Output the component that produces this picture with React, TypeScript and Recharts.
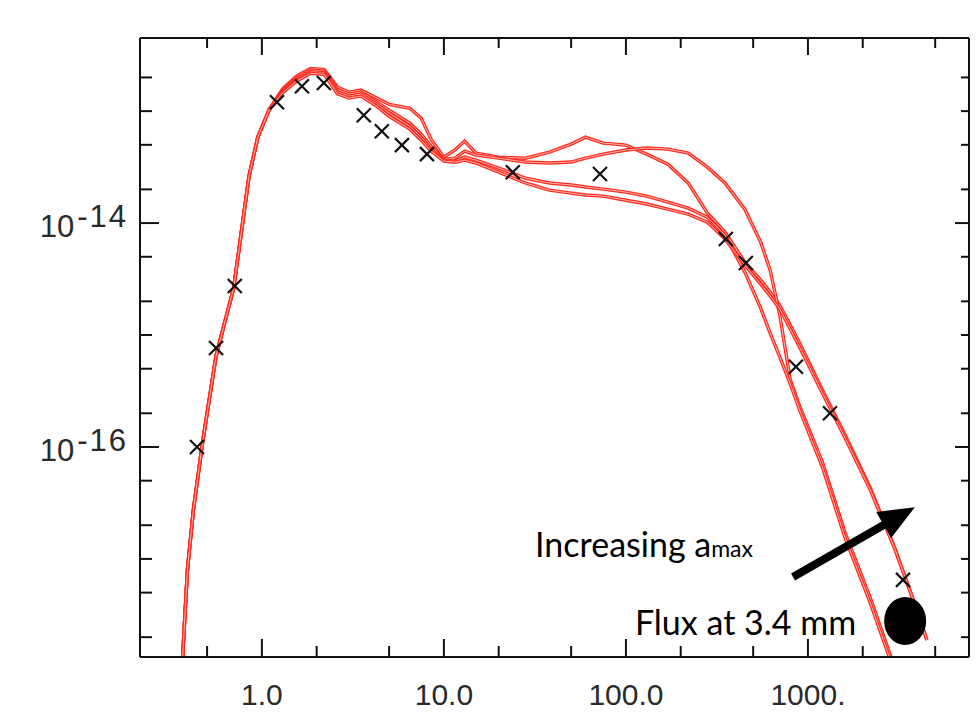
import React from "react"
import { ComposedChart, Line, Scatter, XAxis, YAxis, ReferenceLine } from "recharts"

// wavelength grid (micron) shared by the four model SEDs
const waves = [
  0.36, 0.37, 0.39, 0.42, 0.47, 0.56, 0.7, 0.85, 0.95, 1.1,
  1.3, 1.55, 1.85, 2.2, 2.6, 3.0, 3.5, 4.2, 5.0, 6.5,
  7.5, 8.5, 10, 11.5, 13, 15, 20, 28, 38, 50,
  60, 75, 100, 130, 170, 220, 280, 350, 450, 550,
  620, 700, 800, 900, 1200, 1600, 2200, 3000, 4000, 4500,
]

const modelA = [
  6.3e-19, 1.7e-18, 8.0e-18, 2.7e-17, 1.04e-16, 6.5e-16, 2.63e-15, 2.63e-14, 5.86e-14, 1.04e-13,
  1.58e-13, 2.05e-13, 2.4e-13, 2.35e-13, 1.64e-13, 1.48e-13, 1.54e-13, 1.33e-13, 1.15e-13, 1.06e-13,
  8.66e-14, 5.62e-14, 3.88e-14, 4.5e-14, 5.4e-14, 4.22e-14, 3.88e-14, 3.8e-14, 4.3e-14, 5.07e-14,
  5.86e-14, 5.18e-14, 4.97e-14, 4.13e-14, 3.36e-14, 2.28e-14, 1.23e-14, 8.3e-15, 4.49e-15, 3.1e-15,
  2.42e-15, 1.85e-15, 1.23e-15, 8.49e-16, 3.23e-16, 1.28e-16, 4.3e-17, 1.25e-17, 3.36e-18, 1.89e-18,
]

const modelB = [
  6.3e-19, 1.7e-18, 8.0e-18, 2.7e-17, 1.04e-16, 6.5e-16, 2.63e-15, 2.63e-14, 5.86e-14, 1.04e-13,
  1.54e-13, 1.97e-13, 2.32e-13, 2.28e-13, 1.56e-13, 1.42e-13, 1.48e-13, 1.23e-13, 1.02e-13, 7.8e-14,
  6.24e-14, 4.87e-14, 3.73e-14, 3.8e-14, 4.4e-14, 4.05e-14, 3.8e-14, 3.51e-14, 3.44e-14, 3.51e-14,
  3.8e-14, 4.13e-14, 4.49e-14, 4.68e-14, 4.58e-14, 4.22e-14, 3.16e-14, 2.28e-14, 1.33e-14, 6.76e-15,
  3.8e-15, 1.51e-15, 3.96e-16, 2.32e-16, 7.34e-17, 1.71e-17, 4.49e-18, 1.06e-18, 3.1e-19, 1.71e-19,
]

const modelC = [
  6.3e-19, 1.7e-18, 8.0e-18, 2.7e-17, 1.04e-16, 6.5e-16, 2.63e-15, 2.63e-14, 5.86e-14, 1.04e-13,
  1.5e-13, 1.9e-13, 2.25e-13, 2.2e-13, 1.49e-13, 1.36e-13, 1.42e-13, 1.18e-13, 9.6e-14, 7.3e-14,
  5.86e-14, 4.58e-14, 3.65e-14, 3.58e-14, 3.88e-14, 3.65e-14, 3.1e-14, 2.52e-14, 2.28e-14, 2.19e-14,
  2.1e-14, 2.01e-14, 1.89e-14, 1.74e-14, 1.54e-14, 1.36e-14, 1.13e-14, 7.8e-15, 3.65e-15, 1.74e-15,
  1.04e-15, 6.37e-16, 3.65e-16, 2.14e-16, 6.62e-17, 1.54e-17, 4.05e-18, 9.6e-19, 2.8e-19, 1.54e-19,
]

const modelD = [
  6.3e-19, 1.7e-18, 8.0e-18, 2.7e-17, 1.04e-16, 6.5e-16, 2.63e-15, 2.63e-14, 5.86e-14, 1.04e-13,
  1.46e-13, 1.85e-13, 2.18e-13, 2.13e-13, 1.43e-13, 1.31e-13, 1.36e-13, 1.13e-13, 9.0e-14, 6.9e-14,
  5.5e-14, 4.4e-14, 3.58e-14, 3.5e-14, 3.65e-14, 3.44e-14, 2.85e-14, 2.28e-14, 1.97e-14, 1.85e-14,
  1.78e-14, 1.74e-14, 1.6e-14, 1.48e-14, 1.33e-14, 1.2e-14, 1.02e-14, 7.2e-15, 4.22e-15, 2.85e-15,
  2.23e-15, 1.71e-15, 1.13e-15, 7.8e-16, 3.03e-16, 1.2e-16, 4.13e-17, 1.23e-17, 3.36e-18, 1.89e-18,
]

// observed photometry (crosses)
const obsWave = [0.44, 0.56, 0.71, 1.21, 1.66, 2.19, 3.63, 4.56, 5.88, 8.07, 23.9, 72, 354, 456, 859, 1321, 3327]
const obsFlux = [
  1.0e-16, 7.66e-16, 2.74e-15, 1.2e-13, 1.67e-13, 1.78e-13, 9.2e-14, 6.6e-14, 4.97e-14,
  4.13e-14, 2.85e-14, 2.74e-14, 7.2e-15, 4.4e-15, 5.2e-16, 2.0e-16, 6.5e-18,
]

// 3.4 mm flux point
const mmWave = [3420]
const mmFlux = [2.79e-18]

const xTicks = [0.5, 1, 2, 5, 10, 20, 50, 100, 200, 500, 1000, 2000, 5000]
const xLabelValues = [1, 10, 100, 1000]
const xLabelTexts = ["1.0", "10.0", "100.0", "1000."]
const yTicks = [
  2e-18, 5e-18, 1e-17, 2e-17, 5e-17, 1e-16, 2e-16, 5e-16,
  1e-15, 2e-15, 5e-15, 1e-14, 2e-14, 5e-14, 1e-13, 2e-13,
]
const yLabelExps = [-14, -16]

const arrowFrom = { x: 828, y: 6.9e-18 }
const arrowTo = { x: 3870, y: 2.9e-17 }

const xDomain = [0.214, 7670]
const yDomain = [1.33e-18, 4.5e-13]

const RED = "#ff2a1f"
const INK = "#111"
const TICK_FONT = "Liberation Sans, Arial, sans-serif"

const rows = waves.map((w, i) => ({ w, a: modelA[i], b: modelB[i], c: modelC[i], d: modelD[i] }))
const obsRows = obsWave.map((w, i) => ({ w, f: obsFlux[i] }))
const mmRows = mmWave.map((w, i) => ({ w, f: mmFlux[i] }))

const exp10 = (v: number) => Math.log10(v)
const isDecade = (v: number) => Math.abs(exp10(v) - Math.round(exp10(v))) < 1e-6

function BottomTick({ x, y, payload }: any) {
  const v = payload.value
  const len = isDecade(v) ? 18 : 11
  const idx = xLabelValues.findIndex((t) => Math.abs(t - v) / t < 1e-6)
  return (
    <g>
      <line x1={x} x2={x} y1={y} y2={y - len} stroke={INK} strokeWidth={2} />
      {idx >= 0 && (
        <text x={x} y={y + 48} textAnchor="middle" fontSize={30} fill="#2a2a2a" fontFamily={TICK_FONT}>
          {xLabelTexts[idx]}
        </text>
      )}
    </g>
  )
}

function TopTick({ x, y, payload }: any) {
  const len = isDecade(payload.value) ? 17 : 10
  return <line x1={x} x2={x} y1={y} y2={y + len} stroke={INK} strokeWidth={2} />
}

const yMajor = (v: number) => isDecade(v) && Math.round(exp10(v)) % 2 === 0

function LeftTick({ x, y, payload }: any) {
  const v = payload.value
  const len = yMajor(v) ? 19 : 12
  const e = Math.round(exp10(v))
  const labelled = isDecade(v) && yLabelExps.includes(e)
  return (
    <g>
      <line x1={x} x2={x + len} y1={y} y2={y} stroke={INK} strokeWidth={2} />
      {labelled && (
        <text x={x - 12} y={y + 14} textAnchor="end" fontSize={31} fill="#2a2a2a" fontFamily={TICK_FONT}>
          10<tspan dx={3} dy={-10} letterSpacing={2}>{String(e)}</tspan>
        </text>
      )}
    </g>
  )
}

function RightTick({ x, y, payload }: any) {
  const len = yMajor(payload.value) ? 14 : 8
  return <line x1={x} x2={x - len} y1={y} y2={y} stroke={INK} strokeWidth={2} />
}

function CrossMark({ cx, cy }: any) {
  const s = 7
  return (
    <g stroke={INK} strokeWidth={2.2}>
      <line x1={cx - s} y1={cy - s} x2={cx + s} y2={cy + s} />
      <line x1={cx - s} y1={cy + s} x2={cx + s} y2={cy - s} />
    </g>
  )
}

function MmDot({ cx, cy }: any) {
  return (
    <g>
      <ellipse cx={cx} cy={cy} rx={21} ry={24} fill="#000" />
      <text x={cx - 49} y={cy + 14} textAnchor="end" fontSize={34} fill="#000" fontFamily="Lato, sans-serif">
        Flux at 3.4 mm
      </text>
    </g>
  )
}

function ArrowShape({ x1, y1, x2, y2 }: any) {
  if (x1 == null) return null
  const ang = Math.atan2(y2 - y1, x2 - x1)
  const head = 36
  const half = 15
  const bx = x2 - head * Math.cos(ang)
  const by = y2 - head * Math.sin(ang)
  const nx = -Math.sin(ang)
  const ny = Math.cos(ang)
  return (
    <g>
      <line x1={x1} y1={y1} x2={bx + 2 * Math.cos(ang)} y2={by + 2 * Math.sin(ang)} stroke="#000" strokeWidth={8} />
      <polygon
        points={`${x2},${y2} ${bx + nx * half},${by + ny * half} ${bx - nx * half},${by - ny * half}`}
        fill="#000"
      />
      <text x={x1 - 40} y={y1 - 20} textAnchor="end" fontSize={34} fill="#000" fontFamily="Lato, sans-serif">
        Increasing a<tspan fontSize={23}>max</tspan>
      </text>
    </g>
  )
}

const series = ["a", "b", "c", "d"]

export default function App() {
  return (
    <div style={{ position: "absolute", left: 0, top: 0, background: "#fff" }}>
      <ComposedChart width={976} height={718} data={rows} margin={{ top: 37, right: 6, bottom: 60, left: 139 }}>
        <XAxis
          dataKey="w"
          type="number"
          scale="log"
          domain={xDomain}
          allowDataOverflow
          ticks={xTicks}
          interval={0}
          height={1}
          tickSize={0}
          tickMargin={0}
          tickLine={false}
          tick={<BottomTick />}
          axisLine={{ stroke: INK, strokeWidth: 2 }}
        />
        <XAxis
          xAxisId="top"
          orientation="top"
          dataKey="w"
          type="number"
          scale="log"
          domain={xDomain}
          allowDataOverflow
          ticks={xTicks}
          interval={0}
          height={1}
          tickSize={0}
          tickMargin={0}
          tickLine={false}
          tick={<TopTick />}
          axisLine={{ stroke: INK, strokeWidth: 2 }}
        />
        <YAxis
          type="number"
          scale="log"
          domain={yDomain}
          allowDataOverflow
          ticks={yTicks}
          interval={0}
          width={1}
          tickSize={0}
          tickMargin={0}
          tickLine={false}
          tick={<LeftTick />}
          axisLine={{ stroke: INK, strokeWidth: 2 }}
        />
        <YAxis
          yAxisId="right"
          orientation="right"
          type="number"
          scale="log"
          domain={yDomain}
          allowDataOverflow
          ticks={yTicks}
          interval={0}
          width={1}
          tickSize={0}
          tickMargin={0}
          tickLine={false}
          tick={<RightTick />}
          axisLine={{ stroke: INK, strokeWidth: 2 }}
        />

        {series.flatMap((k) => [
          <Line key={k + "o"} dataKey={k} type="linear" stroke={RED} strokeWidth={3.4} dot={false} isAnimationActive={false} />,
          <Line key={k + "i"} dataKey={k} type="linear" stroke="#ffb4aa" strokeWidth={1} dot={false} isAnimationActive={false} />,
        ])}

        <Scatter data={obsRows} dataKey="f" shape={<CrossMark />} isAnimationActive={false} />
        <Scatter data={mmRows} dataKey="f" shape={<MmDot />} isAnimationActive={false} />

        <ReferenceLine segment={[arrowFrom, arrowTo]} shape={(p: any) => <ArrowShape {...p} />} />
      </ComposedChart>
    </div>
  )
}
